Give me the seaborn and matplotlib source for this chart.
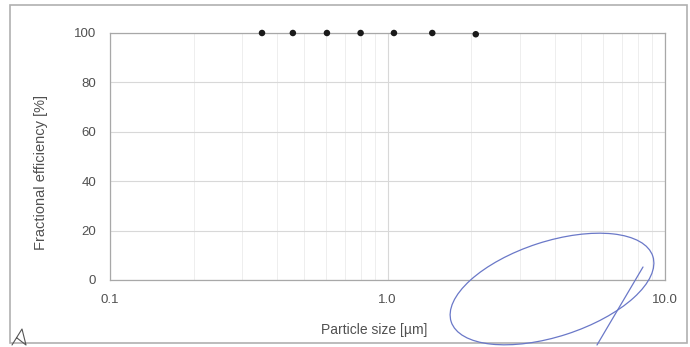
import matplotlib
matplotlib.use("Agg")
import matplotlib.pyplot as plt
from matplotlib.patches import Ellipse, Rectangle
from matplotlib.ticker import FixedLocator, NullFormatter
import seaborn as sns
import pandas as pd

particle_size = [0.353, 0.456, 0.605, 0.80, 1.055, 1.45, 2.08]
efficiency = [100.0, 100.0, 100.0, 100.0, 100.0, 100.0, 99.5]
x_ticks = [0.1, 1.0, 10.0]
x_tick_labels = ["0.1", "1.0", "10.0"]
y_ticks = [0, 20, 40, 60, 80, 100]

sns.set_theme(style="white")
plt.rcParams['font.family'] = ['Liberation Sans', 'DejaVu Sans']

df = pd.DataFrame({"size": particle_size, "eff": efficiency})

fig = plt.figure(figsize=(6.9, 3.47), dpi=100)
fig.patch.set_facecolor("white")
ax = fig.add_axes([110/690, 67/347, 555/690, 247/347])

sns.scatterplot(data=df, x="size", y="eff", ax=ax, color="#1a1a1a",
                s=22, edgecolor="none", zorder=5, clip_on=False)

ax.set_xscale("log")
ax.set_xlim(0.1, 10)
ax.set_ylim(0, 100)
ax.set_xticks(x_ticks)
ax.set_xticklabels(x_tick_labels)
ax.xaxis.set_minor_locator(FixedLocator([m * d for d in (0.1, 1.0) for m in range(2, 10)]))
ax.xaxis.set_minor_formatter(NullFormatter())
ax.set_yticks(y_ticks)

ax.grid(True, which="major", axis="both", color="#d8d8d8", lw=0.8)
ax.grid(True, which="minor", axis="x", color="#eeeeee", lw=0.7)
ax.set_axisbelow(True)

for sp in ax.spines.values():
    sp.set_color("#a8a8a8")
    sp.set_linewidth(0.9)

ax.tick_params(axis="both", which="major", labelsize=9.5, colors="#555555",
               width=0.7, direction="out")
ax.tick_params(axis="both", which="minor", length=0)
ax.tick_params(axis="y", length=5, color="#bbbbbb", pad=5)
ax.tick_params(axis="x", length=0, pad=10)
for lab in ax.get_xticklabels() + ax.get_yticklabels():
    lab.set_color("#505050")

ax.set_xlabel("Particle size [µm]", fontsize=10, color="#505050")
ax.set_ylabel("Fractional efficiency [%]", fontsize=10.5, color="#505050")
ax.xaxis.set_label_coords(0.476, -0.175)
ax.yaxis.set_label_coords(-0.112, 0.437)

# outer frame of the scanned chart
fig.patches.append(Rectangle((10/690, 4/347), 677/690, 338/347, transform=fig.transFigure,
                             fill=False, edgecolor="#b0b0b0", lw=1.2))

# handwritten annotation (blue loop), drawn in inch units so it is not distorted
fig.patches.append(Ellipse((5.52, 0.58), 2.12, 0.95, angle=18,
                           transform=fig.dpi_scale_trans, fill=False,
                           edgecolor="#6a78c8", lw=0.9))
fig.lines.append(plt.Line2D([597/690, 643/690], [2/347, 80/347], transform=fig.transFigure,
                            color="#6a78c8", lw=0.9))
fig.lines.append(plt.Line2D([12/690, 22/690, 26/690, 17/690], [2/347, 18/347, 2/347, 9/347],
                            transform=fig.transFigure, color="#555555", lw=0.8))

fig.savefig("out.png", dpi=100, facecolor="white")
